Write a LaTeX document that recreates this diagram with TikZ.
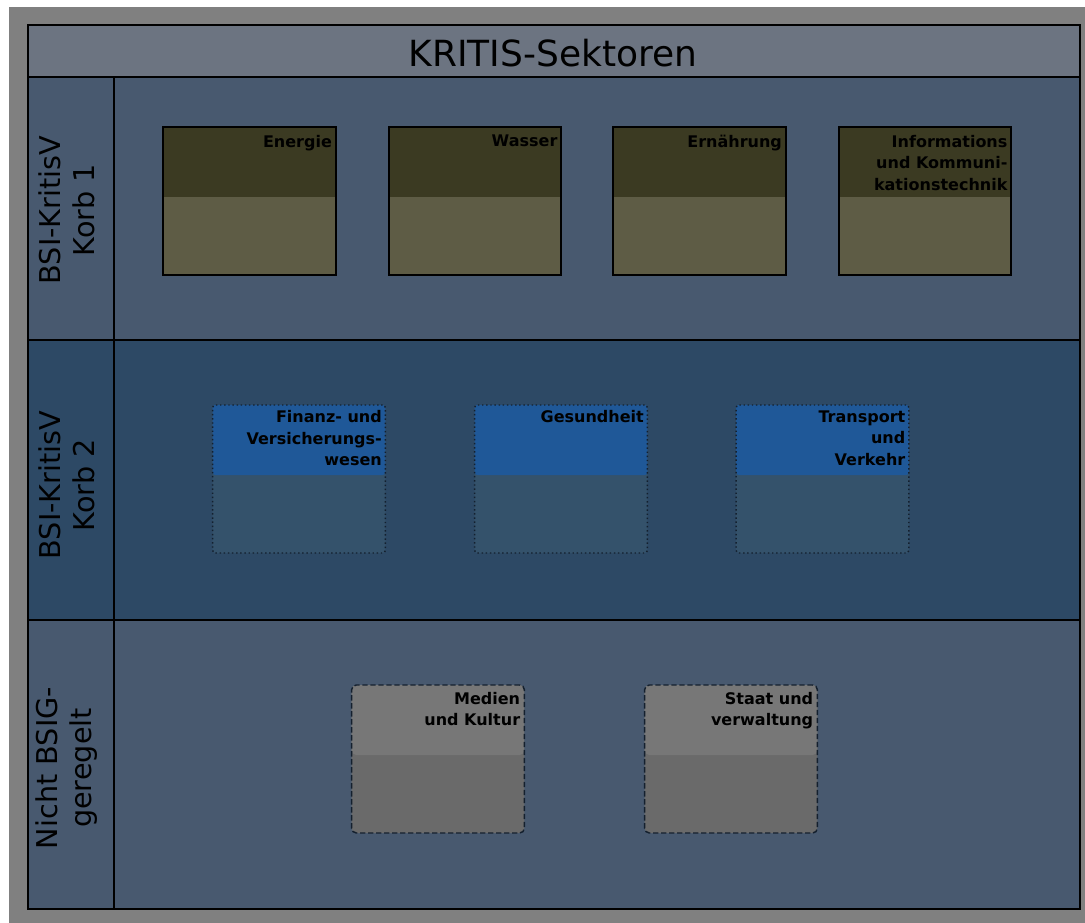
\documentclass[tikz,border=0pt]{standalone}
\usepackage{fontspec}
\setmainfont{DejaVu Sans}
\definecolor{pagebg}{HTML}{808080}
\definecolor{titlebg}{HTML}{6C7481}
\definecolor{bandA}{HTML}{48596F}
\definecolor{bandB}{HTML}{2D4965}
\definecolor{oliveTop}{HTML}{3B3A22}
\definecolor{oliveBot}{HTML}{5E5C45}
\definecolor{blueTop}{HTML}{1F5898}
\definecolor{blueBot}{HTML}{34526B}
\definecolor{greyTop}{HTML}{777777}
\definecolor{greyBot}{HTML}{6A6A6A}
\definecolor{edgeDark}{HTML}{14202E}
\tikzset{
  sector/.style={minimum width=129.5pt, minimum height=111pt, inner sep=0pt,
    path picture={\fill[#1] (path picture bounding box.north west)
      rectangle ([yshift=-52.5pt]path picture bounding box.north east);}},
  korbA/.style={sector=oliveTop, fill=oliveBot, draw=black, line width=1.5pt},
  korbB/.style={sector=blueTop, fill=blueBot, draw=edgeDark, line width=1.1pt,
    dotted, rounded corners=2pt},
  korbN/.style={sector=greyTop, fill=greyBot, draw=edgeDark, line width=1.1pt,
    dash pattern=on 4pt off 2pt, rounded corners=3.5pt},
  sectorlbl/.style={anchor=north east, inner sep=0pt, align=right,
    font=\fontsize{12pt}{16.2pt}\selectfont\bfseries, text=black},
  rowlbl/.style={rotate=90, align=center, inner sep=0pt,
    font=\fontsize{21.5pt}{25.5pt}\selectfont, text=black},
  gridline/.style={draw=black, line width=1.5pt}
}
\begin{document}
\begin{tikzpicture}[x=0.75pt,y=-0.75pt]
% page and frame background
\fill[white] (0,0) rectangle (1085,923);
\useasboundingbox (0,0) rectangle (1085,923);
\fill[pagebg] (9,7) rectangle (1085,923);
\fill[titlebg] (28,25) rectangle (1080,77);
\fill[bandA] (28,77) rectangle (1080,340);
\fill[bandB] (28,340) rectangle (1080,620);
\fill[bandA] (28,620) rectangle (1080,909);
% table rules
\draw[gridline] (28,77) -- (1080,77);
\draw[gridline] (28,340) -- (1080,340);
\draw[gridline] (28,620) -- (1080,620);
\draw[gridline] (114,77) -- (114,909);
\draw[black, line width=2.2pt] (28,25) rectangle (1080,909);

% heading
\node[font=\fontsize{27pt}{32pt}\selectfont, text=black, inner sep=0pt] (title) at (553,53) {KRITIS-Sektoren};

% row headings
\node[rowlbl] (rowA) at (67,210) {BSI-KritisV\\Korb 1};
\node[rowlbl] (rowB) at (67,485) {BSI-KritisV\\Korb 2};
\node[rowlbl] (rowN) at (67,768) {Nicht BSIG-\\geregelt};

% first basket
\node[korbA] (energie) at (249.5,201) {};
\node[korbA] (wasser) at (475,201) {};
\node[korbA] (ernaehrung) at (699.5,201) {};
\node[korbA] (ikt) at (925,201) {};
\node[sectorlbl] (energieT) at ([xshift=-3.5pt,yshift=-6.5pt]energie.north east) {Energie};
\node[sectorlbl] (wasserT) at ([xshift=-3.5pt,yshift=-6.5pt]wasser.north east) {Wasser};
\node[sectorlbl] (ernaehrungT) at ([xshift=-3.5pt,yshift=-6.5pt]ernaehrung.north east) {Ernährung};
\node[sectorlbl] (iktT) at ([xshift=-3.5pt,yshift=-6.5pt]ikt.north east) {Informations\\und Kommuni-\\kationstechnik};

% second basket
\node[korbB] (finanz) at (299,479) {};
\node[korbB] (gesundheit) at (561,479) {};
\node[korbB] (transport) at (822.5,479) {};
\node[sectorlbl] (finanzT) at ([xshift=-3pt,yshift=-4.5pt]finanz.north east) {Finanz- und\\Versicherungs-\\wesen};
\node[sectorlbl] (gesundheitT) at ([xshift=-3pt,yshift=-4.5pt]gesundheit.north east) {Gesundheit};
\node[sectorlbl] (transportT) at ([xshift=-3pt,yshift=-4.5pt]transport.north east) {Transport\\und\\Verkehr};

% not regulated by the BSIG
\node[korbN] (medien) at (438,759) {};
\node[korbN] (staat) at (731,759) {};
\node[sectorlbl] (medienT) at ([xshift=-3.5pt,yshift=-5.5pt]medien.north east) {Medien\\und Kultur};
\node[sectorlbl] (staatT) at ([xshift=-3.5pt,yshift=-5.5pt]staat.north east) {Staat und\\verwaltung};
\end{tikzpicture}
\end{document}
